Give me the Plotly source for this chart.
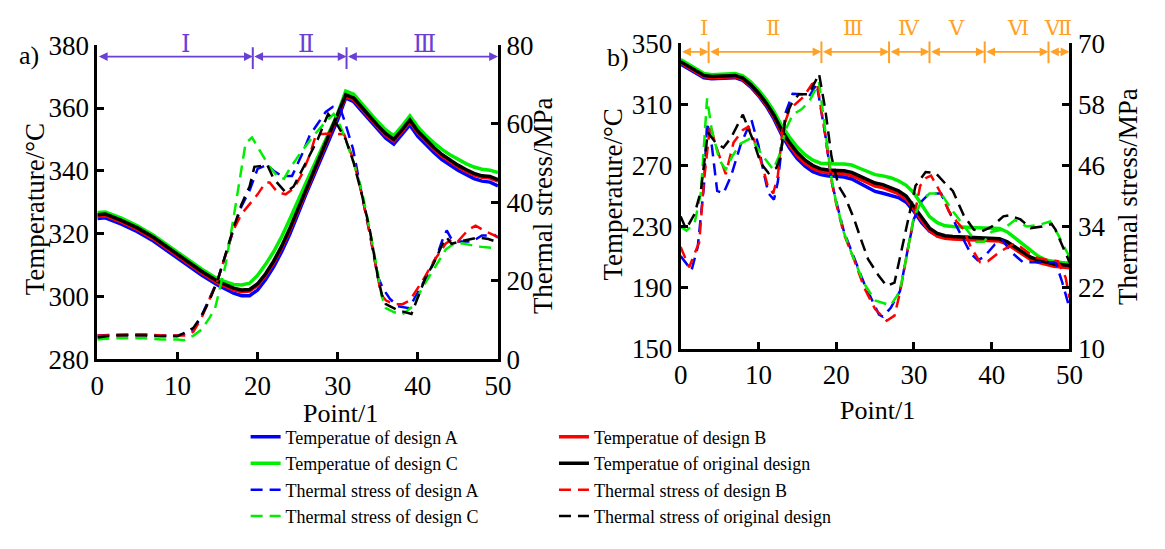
import plotly.graph_objects as go

# ---------------- data: panel a) ----------------
a_xT = [0, 1, 3, 5, 7, 9, 11, 13, 15, 17, 18, 19, 20, 21, 22, 23, 24, 25, 26, 27, 28, 29, 30,
        31, 32, 33, 34, 35, 36, 37, 38, 39, 40, 41, 42, 43, 44, 45, 46, 47, 48, 49, 50]
a_T_orig = [326, 326.2, 324.2, 321.8, 318.8, 315.2, 311.6, 308, 304.8, 302.6, 302, 302.2, 304,
            307.2, 311.2, 316, 321.5, 327.5, 333.5, 339.5, 345.5, 351.5, 357.5, 364.2, 363.2,
            360.2, 357.2, 354.4, 351.8, 350, 353, 356.2, 352.6, 349.8, 347.4, 345.2, 343.4,
            341.8, 340.4, 339.2, 338.4, 338.2, 337.2]
a_T_A = [324.8, 325, 323, 320.6, 317.6, 314, 310.4, 306.8, 303.6, 301, 300.2, 300.2, 302,
         305.4, 309.4, 314.2, 319.7, 326.3, 332.3, 338.3, 344.3, 350.3, 356.3, 363.2, 362,
         359, 356, 353.2, 350.4, 348.5, 351.5, 354.6, 351, 348.2, 345.8, 343.6, 341.8,
         340.2, 338.8, 337.5, 336.7, 336.4, 335.2]
a_T_B = [325.5, 325.7, 323.7, 321.3, 318.3, 314.7, 311.1, 307.5, 304.3, 302.1, 301.5, 301.7,
         303.5, 306.7, 310.7, 315.5, 321, 327, 333, 339, 345, 351, 357, 363.7, 362.7, 359.7,
         356.7, 353.9, 351.3, 349.5, 352.5, 355.7, 352.1, 349.3, 346.9, 344.7, 342.9, 341.3,
         339.9, 338.7, 337.9, 337.7, 336.7]
a_T_C = [326.7, 326.9, 324.9, 322.5, 319.5, 315.9, 312.3, 308.7, 305.5, 303.8, 303.6, 304.2,
         306.7, 310.2, 314.2, 319, 324.5, 330.5, 336, 341.5, 347, 352.5, 358.3, 365.4, 364.4,
         361.4, 358.4, 355.6, 353, 351.2, 354.2, 357.5, 354, 351.2, 348.9, 346.8, 345.1,
         343.6, 342.3, 341.2, 340.5, 340.2, 339.4]

a_xS_orig = [0, 2, 4, 6, 8, 10, 11, 12, 13, 14, 15, 16, 17, 18, 19, 19.6, 21.2, 22, 23.5, 24.5,
             26, 27.5, 28.8, 30, 31, 32, 33, 34, 35, 35.5, 36, 37.5, 39.2, 40.2, 41, 42, 43,
             43.6, 44.2, 45.3, 47.5, 48.8, 50]
a_S_orig = [5.5, 6, 6, 6, 5.8, 5.8, 6.8, 8, 11, 15, 20, 27, 33.5, 39.5, 44, 49, 49.5, 46, 42.5,
            44, 50, 56, 62.5, 59.5, 56, 50, 42, 33, 21, 16.5, 14, 12.5, 11.5, 17, 21, 24.5, 29,
            31, 29.4, 30, 31, 30.6, 29.8]
a_xS_B = [0, 2, 4, 6, 8, 10, 11, 12, 13, 15, 17, 18, 19, 20, 21, 21.5, 22.5, 23.5, 24.5, 25.5,
          26.5, 27.3, 29, 30.8, 32, 33, 34, 35, 35.4, 36, 37, 38.1, 39, 40.6, 42, 43.5, 44.2,
          45, 46.3, 47.2, 48.5, 49.6, 50]
a_S_B = [6, 6, 6.3, 6.3, 6, 6, 6, 7, 10.5, 20, 33, 37, 39.5, 42, 45, 45, 42.5, 42, 43.5, 47,
         52, 57.3, 57.5, 57.3, 50.5, 42, 32, 21, 16.5, 15, 14, 14, 15, 20, 25, 29.5, 30.5, 30,
         33, 34, 32.5, 31.5, 31]
a_xS_A = [0, 2, 4, 6, 8, 10, 11, 12, 13, 15, 17, 18, 19, 20, 21.2, 22, 23, 24.3, 25.5, 26.5,
          27.5, 28.5, 29.4, 30.3, 30.8, 31.9, 33, 34, 35, 35.7, 36.5, 37.5, 38.9, 40, 41.5,
          42.5, 43, 43.6, 44.2, 45, 46.8, 48, 49.6, 50]
a_S_A = [6, 6.2, 6.2, 6.2, 6, 6, 6.5, 7.5, 11, 20, 33, 39, 43, 48.5, 49.5, 48, 46.7, 46.7, 52,
         57, 60, 63, 64.3, 64, 61, 53.7, 42, 32, 21, 17.8, 15.4, 13.5, 13, 17, 22.5, 27, 30,
         32.8, 30.6, 30, 30, 31.5, 31.6, 31]
a_xS_C = [0, 2, 4, 6, 8, 10, 10.8, 12, 13, 14, 14.7, 16, 17, 17.7, 18.5, 19.3, 20.3, 21.5,
          22.5, 23.3, 24, 25.5, 27, 28.5, 29.5, 30, 30.8, 32, 33, 34, 35, 35.5, 36, 37, 38,
          39.4, 40.5, 41.5, 42.6, 43.5, 44.2, 45.5, 47.5, 50]
a_S_C = [5, 5.3, 5.3, 5.3, 5, 5, 4.8, 6, 7.5, 10.5, 13, 24, 36, 45, 55, 56.5, 53, 49, 46.5,
         46, 48.5, 53, 57, 60.5, 62.5, 61, 57, 50, 43, 33, 22, 16, 13, 12, 11.3, 13.5, 18,
         21.5, 25, 28, 29, 29.5, 28.7, 28.2]

# ---------------- data: panel b) ----------------
b_xT = list(range(0, 51))
b_T_orig = [338, 335, 332, 329, 328.3, 328.5, 328.8, 329, 327.3, 323, 317.5, 311, 303, 293,
            285, 278.5, 273.5, 270, 267.8, 267, 266.8, 266.5, 265.5, 263, 260.5, 258.5, 257.5,
            255.5, 253.5, 250, 243, 235.5, 229, 225.5, 224, 223.5, 223.2, 223, 222.8, 222.6,
            222.5, 222, 220, 216.5, 213, 210, 208, 206.5, 205.5, 205.2, 204.5]
b_T_A = [336.5, 333.5, 330.5, 327.5, 326.8, 327, 327.3, 327.5, 325.8, 321.5, 315.8, 309,
         300.5, 290, 281.5, 274.5, 269.5, 266, 264, 263.2, 263, 262.5, 261.2, 258.5, 255.5,
         253, 251.8, 250.5, 249, 246, 240, 232.5, 227, 224, 222.8, 222.3, 222, 221.8, 221.6,
         221.4, 221.3, 221, 219, 215.5, 212, 209, 207, 205.5, 204.5, 204, 203.5]
b_T_B = [337.3, 334.3, 331.3, 328.3, 327.6, 327.8, 328, 328.2, 326.5, 322.2, 316.6, 310,
         301.8, 291.5, 283.2, 276.5, 271.5, 268, 266, 265.2, 265, 264.6, 263.5, 261, 258.5,
         256.5, 255.5, 253.5, 251.5, 248, 241.5, 234, 227.5, 223.8, 222.3, 221.8, 221.5,
         221.3, 221.1, 220.9, 220.8, 220.5, 218.5, 215, 211.5, 208.5, 206.5, 205, 204,
         203.5, 203]
b_T_C = [339.5, 336.5, 333.5, 330.3, 329.5, 329.8, 330, 330.2, 328.8, 324.8, 319.5, 313.2,
         305.5, 296, 288.5, 282, 277, 273.5, 271.5, 271, 271, 271, 270.3, 268.2, 266, 264,
         263.2, 262, 260, 257, 252, 244, 236.5, 232.5, 230.5, 230, 229.6, 229.4, 229.2, 229,
         229, 228.8, 226.5, 222.5, 218, 214, 210.5, 208, 207, 206.5, 206]

b_xS_orig = [0, 0.7, 1.8, 2.6, 3.5, 4.5, 5.5, 6.5, 8, 9.3, 10.3, 11.3, 12.3, 12.8, 13.5, 14.2,
             15.2, 16.5, 17.8, 18.6, 19.4, 20.3, 21.1, 22.3, 23.3, 24.1, 25.4, 26.5, 27.5,
             28.5, 29.5, 30.2, 31.5, 32.8, 34, 35, 36.4, 37.7, 38.6, 40, 41.5, 42.3, 43.7, 45,
             46.5, 47.7, 48.2, 49.5, 50]
b_S_orig = [36, 33.5, 36.5, 41, 52.5, 50.5, 49.5, 51.5, 56, 51, 46.5, 44.5, 45.5, 47.5, 55.5,
            58, 60, 60, 64, 57, 47.7, 42, 40, 35.5, 31, 27.6, 24.5, 22.3, 23, 30, 36.5, 42,
            44.7, 44.5, 42.5, 41, 36.2, 33.4, 33, 34, 36, 36.2, 35.4, 33.7, 34, 34.5, 33.4,
            28.7, 27]
b_xS_B = [0, 1.1, 2.4, 3, 3.8, 4.5, 5.8, 6.8, 8, 8.7, 9.5, 10.5, 11.2, 11.9, 12.5, 13.1, 14,
          15, 15.8, 16.9, 17.5, 18.6, 19.4, 20, 21, 22.3, 23.6, 25, 26.5, 27.5, 28.2, 29.2, 30,
          30.8, 31.5, 32.2, 33.3, 34.5, 35.5, 36.4, 37.3, 38.5, 39.5, 41, 42.7, 43.7, 45.5, 47,
          48.5, 49.5, 50]
b_S_B = [30, 26, 31, 43, 54, 50, 44.3, 50.5, 53, 53.6, 50.8, 46, 42, 40.5, 44, 53, 57, 58.5,
         59.5, 62, 62.5, 52, 43, 38.5, 32.5, 27.5, 22, 17.8, 15.5, 16.5, 21, 29.5, 36, 42,
         43.5, 44, 41, 37, 35, 33.4, 30, 27, 27.2, 29, 30.5, 30, 28, 27.5, 27.2, 24, 20]
b_xS_A = [0, 1.4, 2.2, 3, 3.4, 4, 4.7, 5.5, 6.5, 7.7, 9.1, 10, 10.6, 11.3, 12, 12.5, 13.5, 14.4,
          15.7, 16.5, 17.5, 18.6, 19.4, 20, 21, 22.3, 23.6, 25.5, 26, 27, 28.2, 29.2, 30, 31,
          32, 33.5, 34.5, 35.5, 37.3, 38.2, 39, 40.4, 41.4, 42.5, 44, 46, 48.2, 49, 50]
b_S_A = [28.2, 25.4, 30, 42, 54.5, 50, 41, 40.5, 44, 50, 55, 50, 45.2, 40.5, 39.3, 42.8, 56.4,
         60.1, 60, 59.5, 62, 52, 43, 39, 33, 28, 22.8, 16.7, 16.3, 18, 21.3, 29.5, 35.5, 39,
         40.5, 40.5, 37, 34, 28.7, 27.4, 28, 30.5, 31.3, 29, 27, 27, 27, 23.4, 18]
b_xS_C = [0, 0.75, 1.8, 2.6, 3.4, 4, 5, 5.8, 6.6, 7.7, 9.1, 10.5, 11.9, 12.7, 13.5, 14.4, 15.5,
          16.5, 17.8, 18.6, 19.4, 20, 21, 22.3, 23.6, 25, 27, 28.2, 29.2, 30, 31, 32, 33.5, 35,
          36.5, 38, 39, 40, 41.4, 43, 44.5, 46, 47.5, 48.5, 49.5, 50]
b_S_C = [34, 33.2, 34.7, 40.6, 59.2, 53, 47, 45.2, 47.7, 50.3, 51.4, 48, 45.2, 48, 53, 56, 57,
         58.5, 62.3, 52.7, 43.4, 38.8, 32.8, 27.5, 22.8, 19.5, 18.5, 21.3, 29.5, 36, 39, 40.5,
         40.5, 37, 34, 31, 31, 33, 33.4, 35.3, 34, 34.3, 35, 32.5, 29.5, 28]

# stage boundaries and labels
a_bounds = [0, 19.4, 31.1, 50]
a_stage_labels = ["Ⅰ", "Ⅱ", "Ⅲ"]
a_stage_x = [11, 26, 40.8]
b_bounds = [0, 3.6, 18.1, 26.8, 32.0, 39.1, 47.3, 50]
b_stage_labels = ["Ⅰ", "Ⅱ", "Ⅲ", "Ⅳ", "Ⅴ", "Ⅵ", "Ⅶ"]
b_stage_x = [3.0, 11.9, 22.2, 29.4, 35.5, 43.4, 48.5]

legend_names = {
    "TA": "Temperatue of design A", "TB": "Temperatue of design B",
    "TC": "Temperatue of design C", "TO": "Temperatue of original design",
    "SA": "Thermal stress of design A", "SB": "Thermal stress of design B",
    "SC": "Thermal stress of design C", "SO": "Thermal stress of original design",
}

BLUE, RED, GREEN, BLACK = "#0000ff", "#ff0000", "#00ee00", "#000000"
PURPLE, ORANGE = "#6a3fd6", "#ffa126"
FONT = "Liberation Serif, Times New Roman, serif"
DASH = "12px,7px"

fig = go.Figure()

def add_line(x, y, color, xa, ya, name, dash=None, width=3.5, legend=None, rank=None):
    show = legend is not None
    fig.add_trace(go.Scatter(
        x=x, y=y, mode="lines", name=name, xaxis=xa, yaxis=ya,
        line=dict(color=color, width=width, dash=dash if dash else "solid"),
        showlegend=show, legend=legend if legend else "legend",
        legendrank=rank if rank else 1000, hoverinfo="skip"))

# panel a temperatures
add_line(a_xT, a_T_C, GREEN, "x", "y", legend_names["TC"], legend="legend", rank=2)
add_line(a_xT, a_T_A, BLUE, "x", "y", legend_names["TA"], legend="legend", rank=1)
add_line(a_xT, a_T_B, RED, "x", "y", legend_names["TB"], legend="legend2", rank=1)
add_line(a_xT, a_T_orig, BLACK, "x", "y", legend_names["TO"], legend="legend2", rank=2)
# panel a stresses
add_line(a_xS_A, a_S_A, BLUE, "x", "y2", legend_names["SA"], DASH, 2.5, legend="legend", rank=3)
add_line(a_xS_B, a_S_B, RED, "x", "y2", legend_names["SB"], DASH, 2.5, legend="legend2", rank=3)
add_line(a_xS_C, a_S_C, GREEN, "x", "y2", legend_names["SC"], DASH, 2.5, legend="legend", rank=4)
add_line(a_xS_orig, a_S_orig, BLACK, "x", "y2", legend_names["SO"], DASH, 2.5, legend="legend2", rank=4)

# panel b temperatures
add_line(b_xT, b_T_C, GREEN, "x2", "y3", legend_names["TC"])
add_line(b_xT, b_T_A, BLUE, "x2", "y3", legend_names["TA"])
add_line(b_xT, b_T_B, RED, "x2", "y3", legend_names["TB"])
add_line(b_xT, b_T_orig, BLACK, "x2", "y3", legend_names["TO"])
# panel b stresses
add_line(b_xS_A, b_S_A, BLUE, "x2", "y4", legend_names["SA"], DASH, 2.5)
add_line(b_xS_B, b_S_B, RED, "x2", "y4", legend_names["SB"], DASH, 2.5)
add_line(b_xS_C, b_S_C, GREEN, "x2", "y4", legend_names["SC"], DASH, 2.5)
add_line(b_xS_orig, b_S_orig, BLACK, "x2", "y4", legend_names["SO"], DASH, 2.5)

W, H = 1165, 549
def px(xp):
    return xp / W
def py(yp):
    return 1 - yp / H

axis_common = dict(showgrid=False, zeroline=False, showline=True, linecolor="black",
                   linewidth=3, ticks="inside", ticklen=7, tickwidth=2.5, tickcolor="black",
                   tickfont=dict(family=FONT, size=27, color="black"))

fig.update_layout(
    width=W, height=H, autosize=False,
    margin=dict(l=0, r=0, t=0, b=0),
    paper_bgcolor="white", plot_bgcolor="white",
    xaxis=dict(domain=[px(92), px(500)], range=[0, 50], tick0=0, dtick=10, anchor="y", **axis_common),
    yaxis=dict(domain=[py(364), py(32)], range=[280, 380], tick0=280, dtick=20, anchor="x", **axis_common),
    yaxis2=dict(range=[0, 80], tick0=0, dtick=20, anchor="x", overlaying="y", side="right", **axis_common),
    xaxis2=dict(domain=[px(686), px(1082)], range=[0, 50], tick0=0, dtick=10, anchor="y3", **axis_common),
    yaxis3=dict(domain=[py(353), py(30)], range=[150, 350], tick0=150, dtick=40, anchor="x2", **axis_common),
    yaxis4=dict(range=[10, 70], tick0=10, dtick=12, anchor="x2", overlaying="y3", side="right", **axis_common),
    legend=dict(x=px(243), y=py(427), xanchor="left", yanchor="top", orientation="v",
                font=dict(family=FONT, size=18, color="black"), bgcolor="rgba(0,0,0,0)",
                tracegroupgap=0, itemwidth=30),
    legend2=dict(x=px(557), y=py(427), xanchor="left", yanchor="top", orientation="v",
                 font=dict(family=FONT, size=18, color="black"), bgcolor="rgba(0,0,0,0)",
                 tracegroupgap=0, itemwidth=30),
)

annotations = []
shapes = []

def txt(x, y, s, size=24, angle=0, color="black", family=FONT, xref="paper", yref="paper"):
    annotations.append(dict(x=x, y=y, xref=xref, yref=yref, text=s, showarrow=False,
                            textangle=angle, font=dict(family=family, size=size, color=color),
                            xanchor="center", yanchor="middle"))

# axis titles and panel tags
txt(px(28), py(205), "Temperature/°C", 27, -90)
txt(px(546), py(202), "Thermal stress/MPa", 27, -90)
txt(px(617), py(190), "Temperature/°C", 27, -90)
txt(px(1141), py(192), "Thermal stress/MPa", 27, -90)
txt(px(340), py(422), "Point/1", 26)
txt(px(886), py(418), "Point/1", 26)
txt(px(22), py(43), "a)", 26)
txt(px(622), py(45), "b)", 26)

def stage_bar(bounds, labels, label_x, xref, y_line, y_lab, bar_lo, bar_hi, color, lab_size):
    for i in range(len(bounds) - 1):
        annotations.append(dict(
            x=bounds[i + 1], y=py(y_line), xref=xref, yref="paper",
            ax=bounds[i], ay=0, axref=xref, ayref="pixel", text="",
            showarrow=True, arrowhead=2, arrowside="end+start", arrowsize=1.1,
            arrowwidth=1.6, arrowcolor=color, standoff=0, startstandoff=0))
    for b in bounds[1:-1]:
        shapes.append(dict(type="line", xref=xref, yref="paper", x0=b, x1=b,
                           y0=py(bar_lo), y1=py(bar_hi), line=dict(color=color, width=2)))
    for lx, lab in zip(label_x, labels):
        annotations.append(dict(x=lx, y=py(y_lab), xref=xref, yref="paper", text=lab,
                                showarrow=False, xanchor="center", yanchor="middle",
                                font=dict(family="DejaVu Serif, Liberation Serif, serif",
                                          size=lab_size, color=color)))

stage_bar(a_bounds, a_stage_labels, a_stage_x, "x", 44, 31, 57, 34, PURPLE, 24)
stage_bar(b_bounds, b_stage_labels, b_stage_x, "x2", 39, 14, 51, 28, ORANGE, 21)

fig.update_layout(annotations=annotations, shapes=shapes)
fig.write_html("out.html", post_script="document.body.style.margin='0';")
